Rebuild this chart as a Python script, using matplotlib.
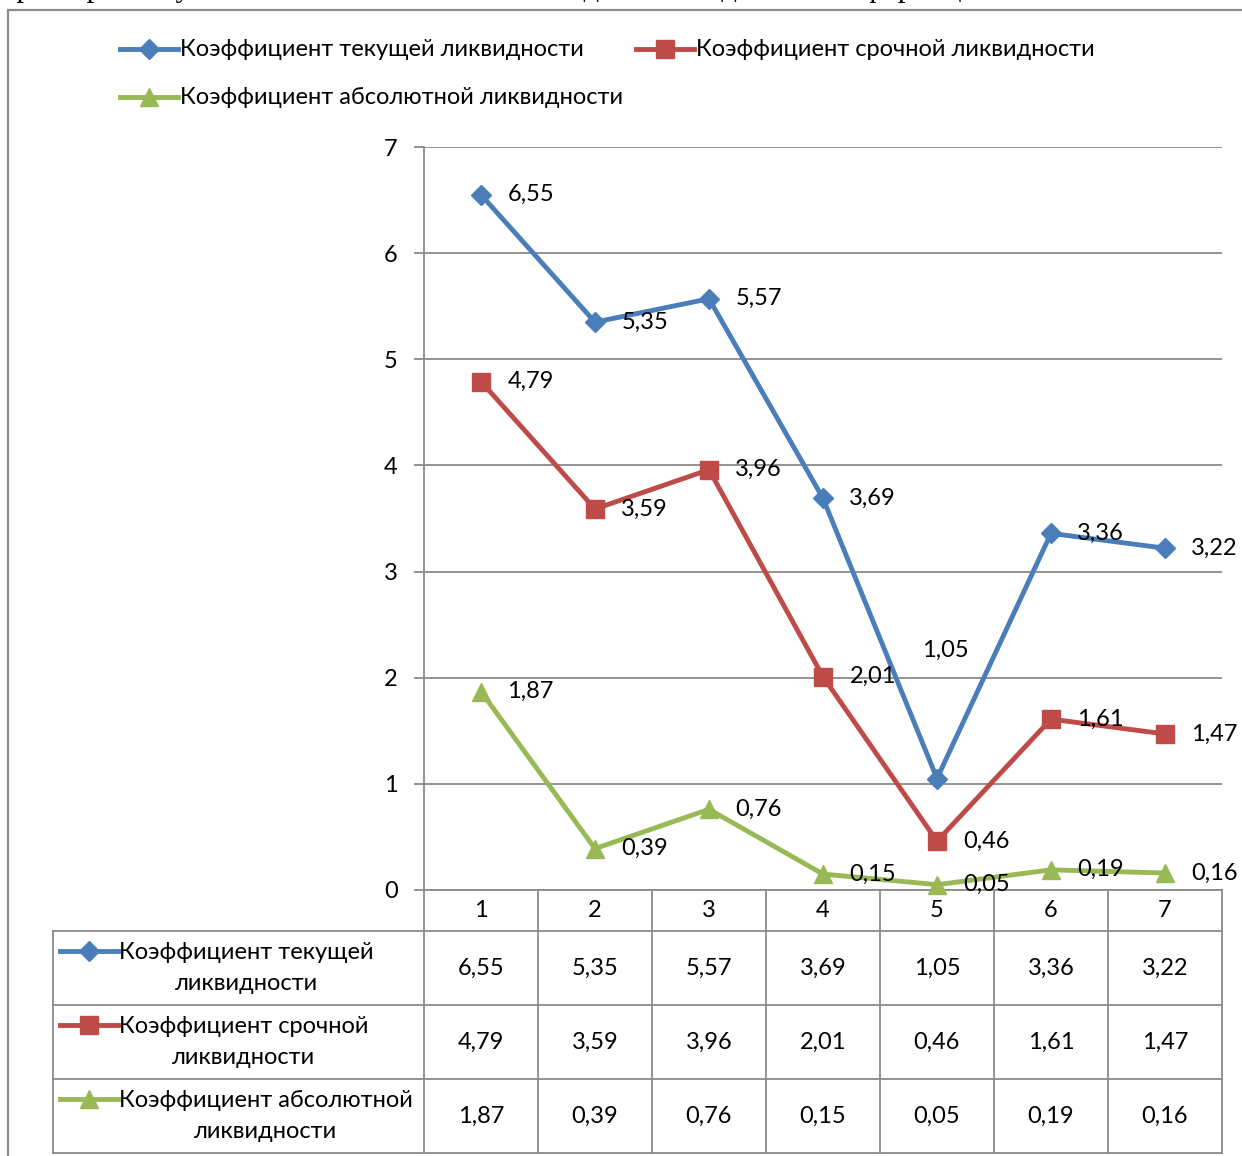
import numpy as np
import matplotlib
matplotlib.use("Agg")
import matplotlib.pyplot as plt
from matplotlib.transforms import blended_transform_factory

# ── Data ─────────────────────────────────────────────────────────────────────
periods = [1, 2, 3, 4, 5, 6, 7]
current_ratio = [6.55, 5.35, 5.57, 3.69, 1.05, 3.36, 3.22]
quick_ratio = [4.79, 3.59, 3.96, 2.01, 0.46, 1.61, 1.47]
absolute_ratio = [1.87, 0.39, 0.76, 0.15, 0.05, 0.19, 0.16]

names = ["Коэффициент текущей ликвидности",
         "Коэффициент срочной ликвидности",
         "Коэффициент абсолютной ликвидности"]
table_names = ["Коэффициент текущей\nликвидности",
               "Коэффициент срочной\nликвидности",
               "Коэффициент абсолютной\nликвидности"]
series = [current_ratio, quick_ratio, absolute_ratio]
colors = ["#4A7EBB", "#BE4B48", "#98B954"]
markers = ["D", "s", "^"]
msizes = [10, 13, 13]
yticks = [0, 1, 2, 3, 4, 5, 6, 7]

FONT = "Lato"
FS = 17
GRID = "#8a8a8a"
W, H = 1242, 1156


def fmt(v):
    return f"{v:.2f}".replace(".", ",")


fig = plt.figure(figsize=(W / 100, H / 100), dpi=100)
plt.rcParams["font.family"] = [FONT, "DejaVu Sans"]

# overlay in pixel coordinates (y downward)
ov = fig.add_axes([0, 0, 1, 1])
ov.set_xlim(0, W)
ov.set_ylim(H, 0)
ov.axis("off")

# main plot area
x0, x1, y0, y1 = 424, 1222, 147, 890
ax = fig.add_axes([x0 / W, (H - y1) / H, (x1 - x0) / W, (y1 - y0) / H])
ax.set_xlim(0.5, len(periods) + 0.5)
ax.set_ylim(0, 7)
ax.set_yticks(yticks)
ax.set_yticklabels([str(t) for t in yticks], fontsize=FS)
ax.set_xticks([])
for s in ["top", "right", "bottom"]:
    ax.spines[s].set_visible(False)
ax.spines["left"].set_color(GRID)
ax.spines["left"].set_linewidth(1.3)
ax.tick_params(axis="y", length=7, width=1.3, color=GRID, pad=12)
ax.grid(axis="y", color=GRID, linewidth=1.3)
ax.set_axisbelow(True)
ax.patch.set_alpha(0)

for k, (vals, c, m, ms) in enumerate(zip(series, colors, markers, msizes)):
    ax.plot(periods, vals, color=c, lw=3.5, marker=m, ms=ms, mec=c, mfc=c,
            zorder=3, clip_on=False)
    for p, v in zip(periods, vals):
        if k == 0 and p == 5:
            # this label was moved above the point in the original
            ax.annotate(fmt(v), (p, v), xytext=(6, 92), textcoords="offset points",
                        ha="center", va="center", fontsize=FS, zorder=4)
        else:
            ax.annotate(fmt(v), (p, v), xytext=(19, 0), textcoords="offset points",
                        ha="left", va="center", fontsize=FS, zorder=4)

# outer frame
ov.plot([8, 8, W + 5], [H + 5, 10, 10], color="#8c8c8c", lw=1.6)

# clipped text line of the page above the chart
ov.text(-12, -4, "характеристику изменения показателей ликвидности по данным информации",
        family="Liberation Serif", fontsize=22, va="baseline", ha="left")

# legend on top
def key(xk, yk, c, m, ms):
    ov.plot([xk, xk + 58], [yk, yk], color=c, lw=3.5)
    ov.plot([xk + 29], [yk], marker=m, ms=ms, color=c, mec=c)

leg_pos = [(120, 49), (636, 49), (120, 97)]
for (lx, ly), n, c, m, ms in zip(leg_pos, names, colors, markers, msizes):
    key(lx, ly, c, m, ms)
    ov.text(lx + 60, ly, n, fontsize=FS, va="center", ha="left")

# data table
tr = blended_transform_factory(ax.transData, ov.transData)
rows_y = [890, 931, 1005, 1079, 1153]
edges = np.arange(len(periods) + 1) + 0.5
for e in edges:
    ov.plot([e, e], [rows_y[0], rows_y[-1]], color=GRID, lw=1.3, transform=tr,
            clip_on=False)
for i, yy in enumerate(rows_y):
    ov.plot([edges[0], edges[-1]], [yy, yy], color=GRID, lw=1.3, transform=tr,
            clip_on=False)
    if i >= 1:
        ov.plot([53, 424], [yy, yy], color=GRID, lw=1.3)
ov.plot([53, 53], [rows_y[1], rows_y[-1]], color=GRID, lw=1.3)

for p in periods:
    ov.text(p, (rows_y[0] + rows_y[1]) / 2, str(p), transform=tr, ha="center",
            va="center", fontsize=FS)

for r, (vals, n, c, m, ms) in enumerate(zip(series, table_names, colors, markers,
                                            msizes)):
    top, bot = rows_y[r + 1], rows_y[r + 2]
    mid = (top + bot) / 2
    for p, v in zip(periods, vals):
        ov.text(p, mid, fmt(v), transform=tr, ha="center", va="center",
                fontsize=FS)
    key(60, top + 20, c, m, ms)
    ov.text(119, mid, n, fontsize=FS, ha="left", va="center",
            multialignment="center", linespacing=1.6)

fig.savefig("out.png", dpi=100)
